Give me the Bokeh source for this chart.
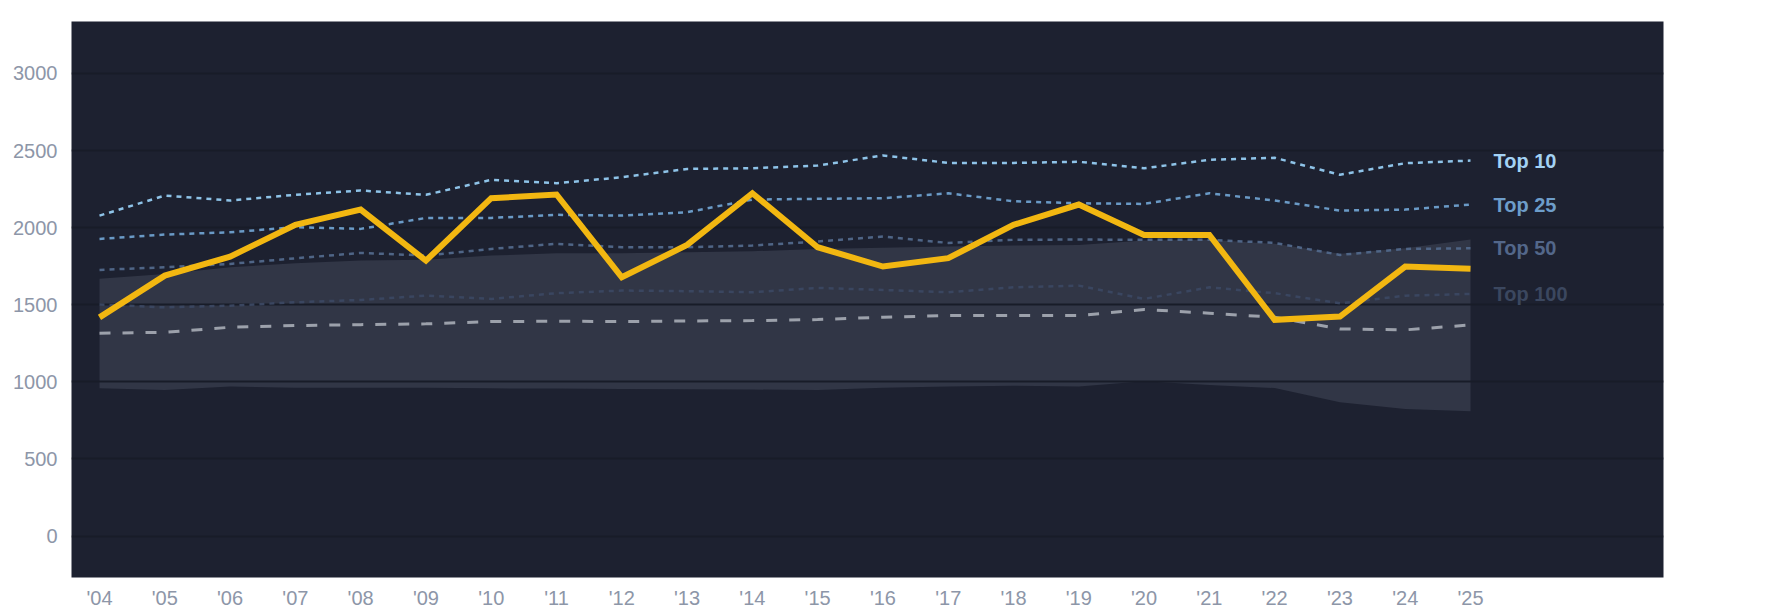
from bokeh.plotting import figure
from bokeh.models import Range1d, FixedTicker, ColumnDataSource
from bokeh.embed import file_html
from bokeh.resources import INLINE
from bokeh.core.properties import value

years = list(range(2004, 2026))
year_labels = ["'04", "'05", "'06", "'07", "'08", "'09", "'10", "'11", "'12", "'13", "'14",
               "'15", "'16", "'17", "'18", "'19", "'20", "'21", "'22", "'23", "'24", "'25"]

main = [1418, 1689, 1812, 2018, 2117, 1786, 2191, 2215, 1678, 1888, 2223,
        1873, 1748, 1802, 2018, 2150, 1953, 1953, 1402, 1423, 1748, 1733]
top10 = [2078, 2208, 2176, 2213, 2241, 2213, 2310, 2288, 2327, 2381, 2385,
         2403, 2468, 2420, 2420, 2427, 2385, 2440, 2453, 2343, 2418, 2435]
top25 = [1927, 1955, 1970, 2003, 1992, 2063, 2063, 2083, 2078, 2100, 2182,
         2187, 2191, 2223, 2171, 2158, 2154, 2223, 2176, 2111, 2117, 2150]
top50 = [1726, 1743, 1765, 1801, 1836, 1819, 1862, 1895, 1873, 1873, 1884,
         1910, 1942, 1901, 1921, 1923, 1921, 1921, 1901, 1823, 1862, 1866]
top100 = [1501, 1483, 1494, 1516, 1531, 1559, 1538, 1575, 1592, 1588, 1581,
          1609, 1596, 1581, 1613, 1624, 1538, 1613, 1575, 1509, 1559, 1570]
median = [1315, 1321, 1354, 1365, 1371, 1376, 1391, 1393, 1391, 1395, 1397,
          1404, 1419, 1430, 1430, 1430, 1469, 1445, 1419, 1343, 1337, 1369]
band_upper = [1668, 1700, 1743, 1769, 1787, 1791, 1819, 1834, 1834, 1840, 1847,
              1862, 1869, 1877, 1884, 1888, 1916, 1921, 1895, 1830, 1866, 1923]
band_lower = [958, 947, 969, 962, 962, 962, 958, 956, 954, 952, 950,
              947, 962, 969, 975, 969, 1003, 980, 960, 867, 824, 809]

series_names = ["Top 10", "Top 25", "Top 50", "Top 100"]
line_colors = ["#8ec3e8", "#6a9ac6", "#4f6586", "#3a4660"]
label_colors = ["#a3d2f4", "#6d9dca", "#53678a", "#3b475f"]

BG = "#1d2130"
GRID = "#181c28"
TICK = "#8d96a8"
FONT = "Liberation Sans"

p = figure(frame_width=1592, frame_height=556,
           x_range=Range1d(2003.571, 2027.956), y_range=Range1d(-269, 3337),
           output_backend="svg", toolbar_location=None,
           background_fill_color=BG, border_fill_color="white",
           min_border_left=71, min_border_top=21, min_border_right=114, min_border_bottom=20)
p.outline_line_color = None

# band
src_band = ColumnDataSource(dict(x=years, lo=band_lower, hi=band_upper))
band = p.varea(x="x", y1="lo", y2="hi", source=src_band, fill_color="#313646", fill_alpha=1.0)
band.level = "image"

# grid
p.xgrid.visible = False
p.ygrid.ticker = FixedTicker(ticks=[0, 500, 1000, 1500, 2000, 2500, 3000])
p.ygrid.grid_line_color = GRID
p.ygrid.grid_line_width = 2

# tier lines
tiers = [top10, top25, top50, top100]
for vals, col in zip(tiers, line_colors):
    p.line(years, vals, line_color=col, line_width=2.5, line_dash="5 5")

p.line(years, median, line_color="#9ca1ab", line_width=3, line_dash="11 12")
p.line(years, main, line_color="#f2b711", line_width=6, line_join="miter")

# labels
lab_src = ColumnDataSource(dict(x=[years[-1]] * 4, y=[t[-1] for t in tiers],
                                text=series_names, color=label_colors))
p.text(x="x", y="y", text="text", source=lab_src, text_color="color",
       text_font=value(FONT), text_font_size="20px", text_font_style="bold",
       text_baseline="middle", text_align="left", x_offset=23)

# axes
p.xaxis.ticker = FixedTicker(ticks=years)
p.xaxis.major_label_overrides = {y: l for y, l in zip(years, year_labels)}
p.yaxis.ticker = FixedTicker(ticks=[0, 500, 1000, 1500, 2000, 2500, 3000])
for ax in (p.xaxis[0], p.yaxis[0]):
    ax.axis_line_color = None
    ax.major_tick_line_color = None
    ax.minor_tick_line_color = None
    ax.major_tick_out = 0
    ax.major_tick_in = 0
    ax.minor_tick_out = 0
    ax.major_label_text_color = TICK
    ax.major_label_text_font = FONT
    ax.major_label_text_font_size = "20px"
p.yaxis.major_label_standoff = 14
p.xaxis.major_label_standoff = 9

open("out.html", "w").write(file_html(p, INLINE))
